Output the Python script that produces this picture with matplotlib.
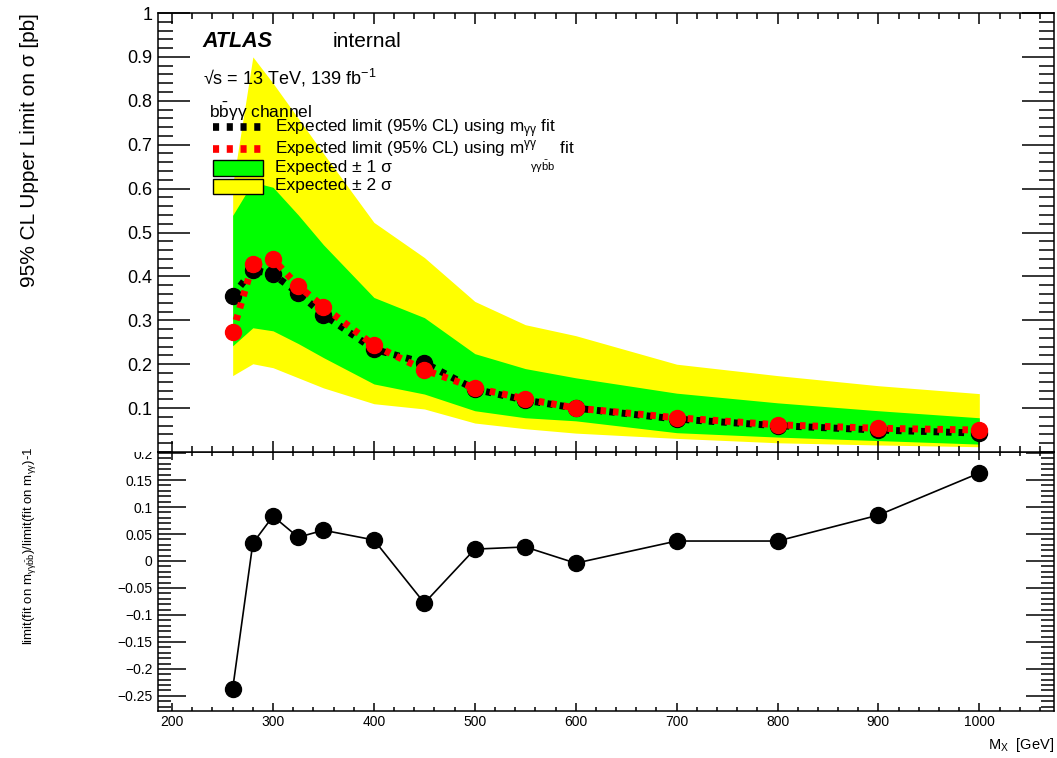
import matplotlib
matplotlib.use("Agg")
import matplotlib.pyplot as plt
from matplotlib.ticker import MultipleLocator, FixedLocator
from matplotlib.patches import Rectangle

plt.rcParams['font.family'] = ['Liberation Sans', 'DejaVu Sans']
plt.rcParams['mathtext.fontset'] = 'custom'
plt.rcParams['mathtext.rm'] = 'Liberation Sans'
plt.rcParams['mathtext.it'] = 'Liberation Sans:italic'
plt.rcParams['mathtext.bf'] = 'Liberation Sans:bold'

# resonance masses [GeV]
mass = [260, 280, 300, 325, 350, 400, 450, 500, 550, 600, 700, 800, 900, 1000]

# expected limits [pb]
lim_myy = [0.356, 0.415, 0.405, 0.362, 0.313, 0.234, 0.203, 0.143, 0.118, 0.100, 0.075, 0.060, 0.050, 0.043]
lim_myybb = [0.273, 0.429, 0.439, 0.378, 0.331, 0.243, 0.187, 0.146, 0.121, 0.100, 0.078, 0.062, 0.054, 0.050]

# bands
band_2s_up = [0.608, 0.900, 0.840, 0.760, 0.680, 0.523, 0.443, 0.343, 0.290, 0.265, 0.200, 0.174, 0.151, 0.133]
band_1s_up = [0.539, 0.615, 0.603, 0.540, 0.472, 0.352, 0.306, 0.224, 0.190, 0.169, 0.134, 0.112, 0.094, 0.078]
band_1s_dn = [0.242, 0.283, 0.276, 0.247, 0.215, 0.155, 0.132, 0.094, 0.078, 0.071, 0.044, 0.034, 0.026, 0.018]
band_2s_dn = [0.174, 0.201, 0.192, 0.169, 0.146, 0.110, 0.098, 0.066, 0.053, 0.043, 0.031, 0.021, 0.016, 0.012]

# relative difference limit(myybb)/limit(myy)-1
ratio = [-0.237, 0.033, 0.083, 0.044, 0.057, 0.039, -0.078, 0.022, 0.026, -0.004, 0.037, 0.037, 0.085, 0.163]

top_yticks = [0.1, 0.2, 0.3, 0.4, 0.5, 0.6, 0.7, 0.8, 0.9, 1.0]
top_ylabels = ["0.1", "0.2", "0.3", "0.4", "0.5", "0.6", "0.7", "0.8", "0.9", "1"]
bot_yticks = [-0.25, -0.2, -0.15, -0.1, -0.05, 0, 0.05, 0.1, 0.15, 0.2]
bot_ylabels = ["\u22120.25", "\u22120.2", "\u22120.15", "\u22120.1", "\u22120.05", "0", "0.05", "0.1", "0.15", "0.2"]

fig = plt.figure(figsize=(10.57, 7.58), dpi=100)
W, H = 1057.0, 758.0
x0, x1 = 158 / W, 1054 / W
axb = fig.add_axes([x0, 1 - 711 / H, x1 - x0, 259 / H], zorder=0)
axt = fig.add_axes([x0, 1 - 452 / H, x1 - x0, 439 / H], zorder=1)

# top panel
axt.fill_between(mass, band_2s_dn, band_2s_up, color='#ffff00', lw=0)
axt.fill_between(mass, band_1s_dn, band_1s_up, color='#00ff00', lw=0)
axt.plot(mass, lim_myy, color='black', lw=5, dashes=(0.8, 1.0), dash_capstyle='butt')
axt.plot(mass, lim_myy, 'o', color='black', ms=11.5)
axt.plot(mass, lim_myybb, color='red', lw=5, dashes=(0.8, 1.0), dash_capstyle='butt')
axt.plot(mass, lim_myybb, 'o', color='red', ms=11.5)

axt.set_xlim(186, 1074)
axt.set_ylim(0, 1)
axt.xaxis.set_major_locator(MultipleLocator(100))
axt.xaxis.set_minor_locator(MultipleLocator(20))
axt.yaxis.set_major_locator(FixedLocator(top_yticks))
axt.yaxis.set_minor_locator(MultipleLocator(0.02))
axt.set_yticklabels(top_ylabels)
axt.tick_params(which='both', direction='in', top=True, right=True, labelbottom=False, width=1.1)
axt.tick_params(axis='y', which='major', length=23, labelsize=13, pad=4)
axt.tick_params(axis='y', which='minor', length=11)
axt.tick_params(axis='x', which='major', length=8)
axt.tick_params(axis='x', which='minor', length=4)
for s in axt.spines.values():
    s.set_linewidth(1.1)

# legend-like texts
tr = axt.transAxes
axt.text(0.050, 0.934, "ATLAS", transform=tr, fontsize=15.5, fontweight='bold', style='italic', va='center')
axt.text(0.195, 0.934, "internal", transform=tr, fontsize=15, va='center')
axt.text(0.050, 0.852, "\u221as = 13 TeV, 139 fb$^{-1}$", transform=tr, fontsize=13, va='center')
axt.text(0.057, 0.774, r"b$\bar{\mathrm{b}}$γγ channel", transform=tr, fontsize=12.5, va='center')
axt.plot([0.0614, 0.117], [0.740, 0.740], transform=tr, color='black', lw=5.5, dashes=(0.8, 1.0))
axt.plot([0.0614, 0.117], [0.690, 0.690], transform=tr, color='red', lw=5.5, dashes=(0.8, 1.0))
axt.add_patch(Rectangle((0.0614, 0.629), 0.0556, 0.036, transform=tr, facecolor='#00ff00', edgecolor='black', lw=1))
axt.add_patch(Rectangle((0.0614, 0.588), 0.0556, 0.034, transform=tr, facecolor='#ffff00', edgecolor='black', lw=1))
axt.text(0.1306, 0.737, r"Expected limit (95% CL) using m$_{\mathrm{\gamma\gamma}}$ fit", transform=tr, fontsize=12.3, va='center')
axt.text(0.1306, 0.691, r"Expected limit (95% CL) using m$^{\mathrm{\gamma\gamma}}$     fit", transform=tr, fontsize=12.3, va='center')
axt.text(0.415, 0.650, r"$\mathrm{\gamma\gamma\bar{b}b}$", transform=tr, fontsize=8, va='center')
axt.text(0.1306, 0.647, "Expected \u00b1 1 σ", transform=tr, fontsize=12.5, va='center')
axt.text(0.1306, 0.606, "Expected \u00b1 2 σ", transform=tr, fontsize=12.5, va='center')

# bottom panel
axb.plot(mass, ratio, '-', color='black', lw=1.2)
axb.plot(mass, ratio, 'o', color='black', ms=11.5)
axb.set_xlim(186, 1074)
axb.set_ylim(-0.278, 0.202)
axb.xaxis.set_major_locator(MultipleLocator(100))
axb.xaxis.set_minor_locator(MultipleLocator(20))
axb.yaxis.set_major_locator(FixedLocator(bot_yticks))
axb.yaxis.set_minor_locator(MultipleLocator(0.01))
axb.set_yticklabels(bot_ylabels)
axb.tick_params(which='both', direction='in', top=True, right=True, width=1.1, labelsize=10)
axb.tick_params(axis='y', which='major', length=20, pad=4)
axb.tick_params(axis='y', which='minor', length=9.5)
axb.tick_params(axis='x', which='major', length=6, pad=3)
axb.tick_params(axis='x', which='minor', length=3)
for s in axb.spines.values():
    s.set_linewidth(1.1)

# mask upper half of the 0.2 label, as the top pad does
fig.patches.append(Rectangle((100 / W, 1 - 452 / H), 57 / W, 20 / H, transform=fig.transFigure,
                             facecolor='white', edgecolor='none', zorder=0.5))

fig.text(30 / W, 1 - 13 / H, "95% CL Upper Limit on σ [pb]", rotation=90, ha='center', va='top', fontsize=15)
fig.text(30 / W, 1 - 447 / H, r"limit(fit on m$_{\mathrm{\gamma\gamma\bar{b}b}}$)/limit(fit on m$_{\mathrm{\gamma\gamma}}$)-1",
         rotation=90, ha='center', va='top', fontsize=9.5)
fig.text(1054 / W, 1 - 745 / H, r"M$_{\mathrm{X}}$  [GeV]", ha='right', va='center', fontsize=10.5)

plt.savefig('out.png', dpi=100)
